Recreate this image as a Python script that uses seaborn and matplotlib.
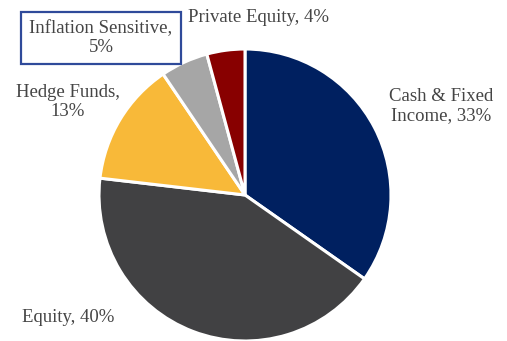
import matplotlib
matplotlib.use("Agg")
import matplotlib.pyplot as plt
import seaborn as sns

# Asset allocation
categories = ["Cash & Fixed\nIncome", "Equity", "Hedge Funds", "Inflation Sensitive", "Private Equity"]
shares = [33, 40, 13, 5, 4]
colors = ["#002060", "#414143", "#F8B939", "#A6A6A6", "#880000"]

sns.set_theme(style="white")
plt.rcParams["font.family"] = ["Liberation Serif", "DejaVu Serif"]

W, H = 507, 341
fig = plt.figure(figsize=(W / 100, H / 100), dpi=100)
ax = fig.add_axes([0, 0, 1, 1])

ax.pie(
    shares,
    colors=sns.color_palette(colors),
    startangle=90,
    counterclock=False,
    center=(245, H - 195),
    radius=146,
    wedgeprops=dict(edgecolor="white", linewidth=2.2),
    frame=True,
)
ax.set_xlim(0, W)
ax.set_ylim(0, H)
ax.set_aspect("equal")
ax.axis("off")

txt = dict(color="#454545", fontsize=13.5, ha="center", va="center", linespacing=1.12)
label_pos = [(441, 106), (68, 317), (68, 102), (101, 38), (258, 17)]
for name, val, (x, y) in zip(categories, shares, label_pos):
    if name in ("Hedge Funds", "Inflation Sensitive"):
        s = f"{name},\n{val}%"
    elif name.startswith("Cash"):
        s = f"Cash & Fixed\nIncome, {val}%"
    else:
        s = f"{name}, {val}%"
    kw = dict(txt)
    if name == "Inflation Sensitive":
        kw["bbox"] = dict(boxstyle="square,pad=0.45", facecolor="white",
                          edgecolor="#2F4A9A", linewidth=1.6)
    ax.text(x, H - y, s, **kw)

fig.savefig("out.png", dpi=100, facecolor="white")
